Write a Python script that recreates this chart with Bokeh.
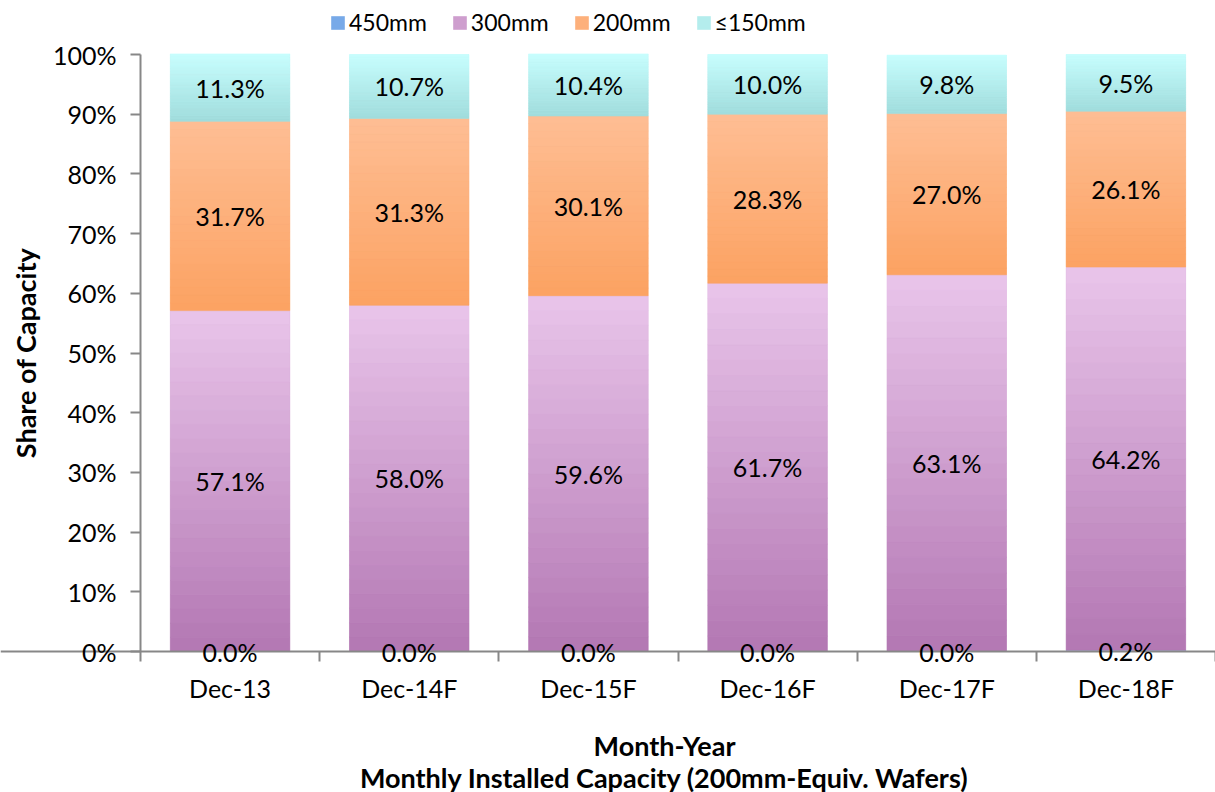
import math
from bokeh.plotting import figure
from bokeh.models import (ColumnDataSource, Range1d, LinearAxis, Label,
                          FixedTicker, PrintfTickFormatter, LabelSet, Legend, LegendItem)
from bokeh.core.properties import value
from bokeh.embed import file_html
from bokeh.resources import INLINE

months = ["Dec-13", "Dec-14F", "Dec-15F", "Dec-16F", "Dec-17F", "Dec-18F"]
series = ["450mm", "300mm", "200mm", "≤150mm"]
s450 = [0.0, 0.0, 0.0, 0.0, 0.0, 0.2]
s300 = [57.1, 58.0, 59.6, 61.7, 63.1, 64.2]
s200 = [31.7, 31.3, 30.1, 28.3, 27.0, 26.1]
s150 = [11.3, 10.7, 10.4, 10.0, 9.8, 9.5]
y_ticks = [0, 10, 20, 30, 40, 50, 60, 70, 80, 90, 100]

colors = ["#77A9E8", "#CE9ECE", "#FDB07B", "#B4EDED"]
grad_top = ["#A4C9F6", "#E9C5EA", "#FEBE94", "#C8FEFE"]
grad_bot = ["#5891DB", "#B377B3", "#FCA262", "#A0DCDC"]
FONT = "Lato"
BAR_W = 0.667

n = len(months)
xpos = [i + 0.5 for i in range(n)]
values = [s450, s300, s200, s150]
data = {"x": xpos, "month": months}
for name, vals in zip(series, values):
    data[name] = vals
source = ColumnDataSource(data)

# pixel layout: the frame covers the whole canvas; axes are fixed at x=0 / y=0
W, H = 1215, 792
LEFT_PX, ZERO_PX, TOP_PX = 140.0, 651.0, 54.0
ppx = (W - LEFT_PX) / n
ppy = (ZERO_PX - TOP_PX) / 100.0


def px_to_x(px):
    return (px - LEFT_PX) / ppx


def px_to_y(py):
    return (ZERO_PX - py) / ppy


p = figure(x_range=Range1d(px_to_x(0), n), y_range=Range1d(px_to_y(H), px_to_y(0)),
           width=W, height=H, output_backend="svg", toolbar_location=None,
           x_axis_location=None, y_axis_location=None,
           min_border=0, min_border_left=0, min_border_right=0,
           min_border_top=0, min_border_bottom=0)

renderers = p.vbar_stack(series, x="x", width=BAR_W, source=source,
                         fill_color=colors, line_color=None)


def hex2rgb(h):
    h = h.lstrip("#")
    return [int(h[k:k + 2], 16) for k in (0, 2, 4)]


def lerp(c1, c2, t):
    a, b = hex2rgb(c1), hex2rgb(c2)
    return "#%02x%02x%02x" % tuple(int(round(a[k] + (b[k] - a[k]) * t)) for k in range(3))


# vertical gradient shading of each stacked segment
NS = 24
g = dict(left=[], right=[], bottom=[], top=[], color=[])
base = [0.0] * n
for k, vals in enumerate(values):
    for i in range(n):
        b, h = base[i], vals[i]
        if h > 0:
            for j in range(NS):
                g["left"].append(xpos[i] - BAR_W / 2)
                g["right"].append(xpos[i] + BAR_W / 2)
                g["bottom"].append(b + h * j / NS)
                g["top"].append(b + h * (j + 1) / NS)
                g["color"].append(lerp(grad_bot[k], grad_top[k], (j + 0.5) / NS))
        base[i] += h
p.quad(left="left", right="right", bottom="bottom", top="top", source=ColumnDataSource(g),
       fill_color="color", line_color="color", line_width=0.6)

grey = "#878787"
p.xgrid.visible = False
p.ygrid.visible = False
p.outline_line_color = None

ya = LinearAxis(fixed_location=0, bounds=(0, 100), ticker=FixedTicker(ticks=y_ticks),
                formatter=PrintfTickFormatter(format="%d%%"),
                axis_line_color=grey, axis_line_width=2,
                major_tick_line_color=grey, major_tick_line_width=2,
                major_tick_out=10, major_tick_in=0, minor_tick_line_color=None,
                major_label_standoff=14, major_label_text_font=FONT,
                major_label_text_font_size="25px", major_label_text_color="#000000")
p.add_layout(ya, "left")

bounds = list(range(n + 1))
ax1 = LinearAxis(fixed_location=0, ticker=FixedTicker(ticks=bounds),
                 major_label_overrides={b: "" for b in bounds},
                 major_tick_out=10, major_tick_in=0, minor_tick_line_color=None,
                 axis_line_color=grey, axis_line_width=2,
                 major_tick_line_color=grey, major_tick_line_width=2,
                 major_label_text_font_size="1px", major_label_standoff=0)
p.add_layout(ax1, "below")

ax2 = LinearAxis(fixed_location=0, ticker=FixedTicker(ticks=xpos),
                 major_label_overrides={x: m for x, m in zip(xpos, months)},
                 major_tick_line_color=None, minor_tick_line_color=None, axis_line_color=None,
                 major_label_text_font=FONT, major_label_text_font_size="25px",
                 major_label_text_color="#000000", major_label_standoff=15)
p.add_layout(ax2, "below")

# data labels at segment midpoints
lx, ly, lt = [], [], []
for i in range(n):
    b = 0.0
    for vals in values:
        v = vals[i]
        lx.append(xpos[i])
        ly.append(b + v / 2.0)
        lt.append(f"{v:.1f}%")
        b += v
lsrc = ColumnDataSource(dict(x=lx, y=ly, t=lt))
labels = LabelSet(x="x", y="y", text="t", source=lsrc, text_align="center",
                  text_baseline="middle", text_font=value(FONT), text_font_size="25px",
                  text_color="#000000")
p.add_layout(labels)

# axis titles
p.add_layout(Label(x=px_to_x(25), y=50, angle=math.pi / 2, text="Share of Capacity",
                   text_align="center", text_baseline="middle", text_font=FONT,
                   text_font_size="27px", text_font_style="bold", text_color="#000000"))
p.add_layout(Label(x=px_to_x(664), y=px_to_y(745), text="Month-Year",
                   text_align="center", text_baseline="middle", text_font=FONT,
                   text_font_size="27px", text_font_style="bold", text_color="#000000"))
p.add_layout(Label(x=px_to_x(664), y=px_to_y(777),
                   text="Monthly Installed Capacity (200mm-Equiv. Wafers)",
                   text_align="center", text_baseline="middle", text_font=FONT,
                   text_font_size="27px", text_font_style="bold", text_color="#000000"))

legend = Legend(items=[LegendItem(label=s, renderers=[r]) for s, r in zip(series, renderers)],
                orientation="horizontal", location=(LEFT_PX + 189, H - 36),
                label_text_font=FONT, label_text_font_size="23px", label_text_color="#000000",
                glyph_width=17, glyph_height=17, spacing=24, label_standoff=3,
                padding=0, margin=0, border_line_color=None, background_fill_alpha=0)
p.add_layout(legend, "center")

open("out.html", "w").write(file_html(p, INLINE))
